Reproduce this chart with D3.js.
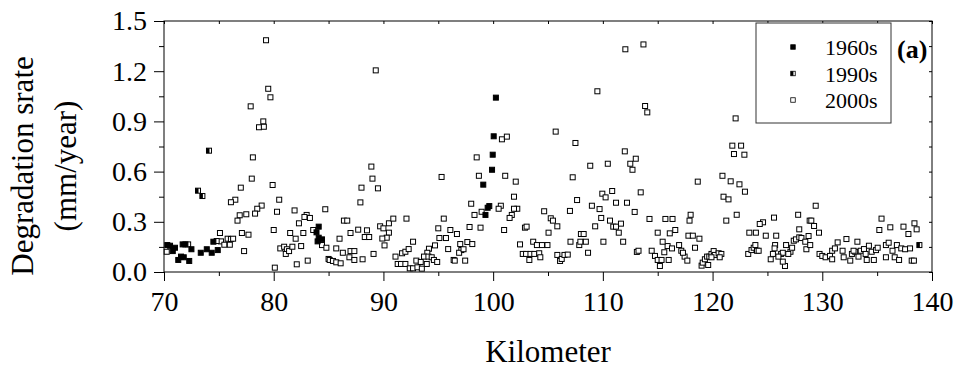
<!DOCTYPE html>
<html>
<head>
<meta charset="utf-8">
<script src="https://cdn.jsdelivr.net/npm/d3@7"></script>
<style>
  body { margin: 0; background: #fff; }
  text { font-family: "Liberation Serif", "Times New Roman", serif; fill: #000; }
</style>
</head>
<body>
<div class="canvas"></div>
<script>
// ---- data: [kilometer, degradation rate (mm/year)] ----
const s1960 = [
  [70.3,0.161],[70.55,0.157],[70.8,0.125],[71.0,0.145],[71.3,0.072],[71.55,0.092],[71.8,0.088],[72.3,0.066],
  [71.7,0.165],[71.95,0.165],[72.5,0.136],[73.35,0.115],[73.9,0.136],[74.35,0.115],[74.9,0.131],[74.5,0.181],
  [84.1,0.271],[83.9,0.237],[84.1,0.205],[84.4,0.195],[84.0,0.183],
  [100.25,1.042],[100.05,0.811],[99.96,0.701],[99.9,0.611],[99.1,0.522],[99.65,0.394],[99.5,0.384],[99.3,0.341]
];

const s1990 = [[73.1,0.486],[73.5,0.454],[74.1,0.725],[138.85,0.161]];

const s2000 = [
  // 70 - 93 km
  [79.3,1.385],[89.3,1.205],[79.5,1.095],[79.7,1.044],[77.9,0.99],[79.05,0.90],[78.66,0.865],[79.1,0.868],
  [78.1,0.685],[78.0,0.558],[88.9,0.63],[89.0,0.558],[89.5,0.50],[88.0,0.504],[77.0,0.504],[79.9,0.52],
  [76.5,0.432],[76.1,0.417],[80.5,0.432],[87.9,0.416],[78.9,0.397],[78.5,0.378],[81.9,0.368],[80.3,0.36],
  [84.7,0.375],[76.9,0.339],[77.5,0.345],[78.3,0.349],[83.0,0.341],[83.3,0.323],[82.8,0.329],[76.7,0.307],
  [82.3,0.291],[86.4,0.307],[86.7,0.307],[90.5,0.291],[90.9,0.319],[92.1,0.319],[83.6,0.251],[80.0,0.251],
  [87.7,0.253],[88.5,0.249],[89.7,0.273],[90.0,0.261],[75.1,0.233],[77.1,0.233],[77.7,0.223],[81.5,0.233],
  [82.7,0.233],[87.0,0.233],[90.5,0.235],[75.8,0.199],[76.1,0.197],[76.3,0.199],[75.2,0.183],[82.0,0.199],
  [86.0,0.199],[88.3,0.209],[88.7,0.209],[90.3,0.205],[89.9,0.20],[75.5,0.163],[76.0,0.163],[90.1,0.159],
  [92.7,0.181],[77.3,0.125],[70.25,0.121],[72.2,0.165],[74.8,0.185],[80.1,0.026],[82.1,0.046],[83.1,0.068],
  [80.6,0.141],[80.95,0.151],[81.2,0.136],[81.1,0.108],[81.4,0.125],[81.7,0.151],[82.5,0.155],[84.4,0.161],
  [84.8,0.145],[85.0,0.078],[85.1,0.072],[85.4,0.066],[85.7,0.058],[86.1,0.052],[85.7,0.141],[86.3,0.115],
  [86.9,0.088],[87.0,0.125],[87.35,0.125],[87.35,0.072],[88.1,0.076],[89.1,0.108],[91.1,0.092],[91.3,0.048],
  [91.6,0.048],[92.0,0.048],[91.7,0.112],[92.0,0.121],[92.3,0.137],[92.4,0.022],[92.7,0.022],[93.0,0.068],
  [93.1,0.028],
  // 93 - 116 km
  [112.05,1.331],[113.7,1.36],[109.5,1.08],[113.85,0.992],[114.05,0.954],[100.8,0.793],[101.25,0.809],
  [105.7,0.839],[107.5,0.771],[98.5,0.685],[112.0,0.721],[113.0,0.677],[112.5,0.647],[112.7,0.611],
  [108.85,0.635],[110.45,0.647],[98.7,0.575],[101.1,0.575],[102.06,0.54],[95.3,0.568],[107.25,0.566],
  [113.45,0.476],[109.95,0.468],[110.25,0.446],[110.85,0.484],[101.9,0.45],[107.65,0.43],[111.2,0.414],
  [112.2,0.414],[98.0,0.408],[109.0,0.396],[109.7,0.376],[100.7,0.396],[100.5,0.378],[102.2,0.378],
  [101.9,0.378],[98.95,0.36],[98.3,0.341],[101.7,0.341],[101.5,0.323],[104.65,0.363],[107.0,0.365],
  [112.9,0.359],[109.85,0.323],[95.5,0.319],[105.25,0.321],[105.45,0.307],[110.65,0.307],[110.95,0.271],
  [111.2,0.271],[111.65,0.289],[114.25,0.317],[115.7,0.317],[105.85,0.273],[109.3,0.273],[102.9,0.265],
  [103.05,0.271],[97.85,0.269],[98.85,0.265],[101.0,0.251],[96.1,0.251],[96.7,0.227],[95.0,0.261],
  [105.05,0.235],[108.0,0.227],[108.25,0.227],[111.45,0.235],[115.0,0.235],
  [95.1,0.203],[95.7,0.203],[94.7,0.159],[94.15,0.139],[94.0,0.115],[93.7,0.092],[93.4,0.06],[93.5,0.020],
  [93.95,0.048],[94.1,0.092],[94.4,0.088],[94.6,0.072],[94.9,0.06],[95.9,0.137],[96.4,0.072],[96.5,0.068],
  [97.0,0.167],[97.1,0.131],[96.9,0.115],[97.3,0.136],[97.65,0.179],[98.1,0.167],[97.45,0.068],
  [102.45,0.165],[102.7,0.108],[103.0,0.108],[103.4,0.108],[103.75,0.108],[104.2,0.112],[103.3,0.072],
  [104.3,0.088],[103.65,0.181],[103.99,0.161],[104.45,0.161],[104.95,0.161],[107.05,0.181],[107.85,0.161],
  [107.95,0.181],[108.45,0.181],[105.85,0.102],[106.1,0.066],[106.25,0.078],[106.5,0.102],[106.8,0.104],
  [108.65,0.115],[110.05,0.181],[111.85,0.181],[113.1,0.12],[113.25,0.127],[114.45,0.127],[114.75,0.096],
  [115.0,0.072],[115.2,0.036],[115.35,0.072],[115.6,0.118],[115.9,0.155],[115.45,0.181],[116.35,0.317],
  [116.0,0.072],[116.6,0.251],[116.1,0.231],
  // 116 - 140 km
  [122.1,0.918],[121.8,0.755],[122.6,0.755],[121.95,0.705],[122.9,0.701],[120.9,0.575],[121.65,0.542],
  [122.45,0.524],[122.95,0.48],[118.65,0.54],[121.0,0.45],[121.45,0.434],[129.4,0.396],[121.25,0.307],
  [122.2,0.342],[118.0,0.342],[117.9,0.307],[117.8,0.217],[118.2,0.217],[118.8,0.199],[118.4,0.145],
  [125.6,0.325],[124.6,0.297],[124.3,0.287],[123.35,0.235],[123.95,0.235],[124.85,0.217],[125.8,0.217],
  [127.8,0.342],[128.85,0.307],[129.0,0.307],[129.25,0.275],[129.7,0.235],[127.9,0.255],[135.4,0.319],
  [135.2,0.251],[136.2,0.267],[137.4,0.271],[137.85,0.227],[138.4,0.291],[138.6,0.255],
  [116.3,0.141],[116.95,0.161],[117.15,0.127],[117.45,0.092],[117.7,0.068],[117.3,0.115],
  [119.0,0.038],[119.1,0.056],[119.3,0.076],[119.5,0.092],[119.7,0.092],[119.9,0.108],[119.6,0.042],
  [120.1,0.125],[120.2,0.102],[120.55,0.112],[120.8,0.108],[120.65,0.088],[119.9,0.088],
  [123.25,0.108],[123.55,0.131],[123.75,0.145],[123.9,0.161],[124.05,0.127],[124.2,0.127],
  [125.7,0.161],[125.65,0.141],[125.5,0.108],[125.3,0.076],[126.25,0.108],[126.4,0.115],[126.7,0.161],
  [127.1,0.121],[127.25,0.145],[127.4,0.187],[127.6,0.195],[127.9,0.207],[128.1,0.203],[128.45,0.181],
  [128.55,0.136],[128.75,0.215],[128.9,0.161],[126.6,0.036],[126.4,0.062],[126.0,0.092],[126.9,0.108],
  [129.75,0.108],[130.0,0.096],[130.3,0.088],[130.7,0.096],[130.9,0.076],[130.9,0.127],[131.15,0.141],
  [131.4,0.177],[131.85,0.127],[131.95,0.088],[132.2,0.197],[132.55,0.068],[132.7,0.108],[133.2,0.181],
  [133.0,0.121],[133.3,0.092],[133.5,0.127],[133.8,0.137],[133.95,0.108],[134.05,0.072],[134.25,0.157],
  [134.5,0.121],[134.7,0.072],[134.9,0.131],[135.05,0.145],[135.8,0.161],[135.8,0.088],[136.05,0.175],
  [136.4,0.127],[136.6,0.088],[136.8,0.161],[137.0,0.072],[137.2,0.141],[137.55,0.136],[138.15,0.068],
  [138.35,0.068],[138.0,0.141],[132.85,0.127]
];

const xTicks = [70, 80, 90, 100, 110, 120, 130, 140];
const yTicks = [0, 0.3, 0.6, 0.9, 1.2, 1.5];
const legendLabels = ["1960s", "1990s", "2000s"];

// ---- layout ----
const dims = { width: 954, height: 371 };
const plot = { left: 164, right: 932, top: 21, bottom: 272 };
const mk = 5; // marker side

const svg = d3.select(".canvas")
  .append("svg")
  .attr("width", dims.width)
  .attr("height", dims.height);

const x = d3.scaleLinear().domain([70, 140]).range([plot.left, plot.right]);
const y = d3.scaleLinear().domain([0, 1.5]).range([plot.bottom, plot.top]);

const minorX = d3.range(75, 140, 10);
const minorY = d3.range(0.15, 1.5, 0.3);

// frame
svg.append("rect")
  .attr("x", plot.left).attr("y", plot.top)
  .attr("width", plot.right - plot.left).attr("height", plot.bottom - plot.top)
  .attr("fill", "none").attr("stroke", "#000").attr("stroke-width", 1);

// bottom axis (outward ticks)
const xAxis = svg.append("g")
  .attr("transform", `translate(0,${plot.bottom})`)
  .call(d3.axisBottom(x).tickValues(xTicks).tickSize(9).tickPadding(10).tickFormat(d3.format("d")));
svg.append("g")
  .attr("transform", `translate(0,${plot.bottom})`)
  .call(d3.axisBottom(x).tickValues(minorX).tickSize(4).tickFormat(""));

// left axis (outward ticks)
const yAxis = svg.append("g")
  .attr("transform", `translate(${plot.left},0)`)
  .call(d3.axisLeft(y).tickValues(yTicks).tickSize(10).tickPadding(7).tickFormat(d3.format(".1f")));
svg.append("g")
  .attr("transform", `translate(${plot.left},0)`)
  .call(d3.axisLeft(y).tickValues(minorY).tickSize(5).tickFormat(""));

// top & right axes (inward ticks, no labels)
svg.append("g")
  .attr("transform", `translate(0,${plot.top})`)
  .call(d3.axisBottom(x).tickValues(d3.range(70, 141, 5)).tickSize(3).tickFormat(""));
svg.append("g")
  .attr("transform", `translate(${plot.right},0)`)
  .call(d3.axisLeft(y).tickValues(d3.range(0, 1.51, 0.15)).tickSize(3).tickFormat(""));

svg.selectAll(".domain").remove();
svg.selectAll(".tick line").attr("stroke", "#000").attr("stroke-width", 1);
svg.selectAll(".tick text")
  .attr("font-family", "Liberation Serif, Times New Roman, serif")
  .attr("font-size", 28)
  .attr("fill", "#000");

// axis titles
svg.append("text")
  .attr("x", (plot.left + plot.right) / 2).attr("y", 362)
  .attr("text-anchor", "middle").attr("font-size", 31)
  .text("Kilometer");

svg.append("text")
  .attr("transform", "translate(33,166) rotate(-90)")
  .attr("text-anchor", "middle").attr("font-size", 31)
  .text("Degradation srate");
svg.append("text")
  .attr("transform", "translate(76,166) rotate(-90)")
  .attr("text-anchor", "middle").attr("font-size", 31)
  .text("(mm/year)");

// markers
const drawSquares = (data, fill) => {
  svg.append("g").selectAll("rect")
    .data(data)
    .enter()
    .append("rect")
    .attr("x", d => x(d[0]) - mk / 2)
    .attr("y", d => y(d[1]) - mk / 2)
    .attr("width", mk).attr("height", mk)
    .attr("fill", fill)
    .attr("stroke", "#000")
    .attr("stroke-width", 1);
};

drawSquares(s2000, "#fff");
drawSquares(s1960, "#000");
drawSquares(s1990, "#fff");
// left half filled for 1990s
svg.append("g").selectAll("rect")
  .data(s1990)
  .enter()
  .append("rect")
  .attr("x", d => x(d[0]) - mk / 2)
  .attr("y", d => y(d[1]) - mk / 2)
  .attr("width", mk / 2 + 0.5).attr("height", mk)
  .attr("fill", "#000");

// legend
const legendGroup = svg.append("g").attr("transform", "translate(756,23)");
legendGroup.append("rect")
  .attr("width", 135).attr("height", 100)
  .attr("fill", "#fff").attr("stroke", "#333").attr("stroke-width", 1);

const lm = 4.5;
const legendRows = legendGroup.selectAll("g.row")
  .data(legendLabels)
  .enter()
  .append("g")
  .attr("class", "row")
  .attr("transform", (d, i) => `translate(0,${24 + i * 26.5})`);

legendRows.append("rect")
  .attr("x", 37 - lm / 2).attr("y", -lm / 2)
  .attr("width", lm).attr("height", lm)
  .attr("fill", (d, i) => i === 0 ? "#000" : "#fff")
  .attr("stroke", "#000").attr("stroke-width", 0.8);
legendRows.filter((d, i) => i === 1)
  .append("rect")
  .attr("x", 37 - lm / 2).attr("y", -lm / 2)
  .attr("width", lm / 2 + 0.4).attr("height", lm)
  .attr("fill", "#000");

legendRows.append("text")
  .attr("x", 69).attr("y", 8)
  .attr("font-size", 22)
  .text(d => d);

// panel label
svg.append("text")
  .attr("x", 897).attr("y", 58)
  .attr("font-size", 26).attr("font-weight", "bold")
  .text("(a)");
</script>
</body>
</html>
